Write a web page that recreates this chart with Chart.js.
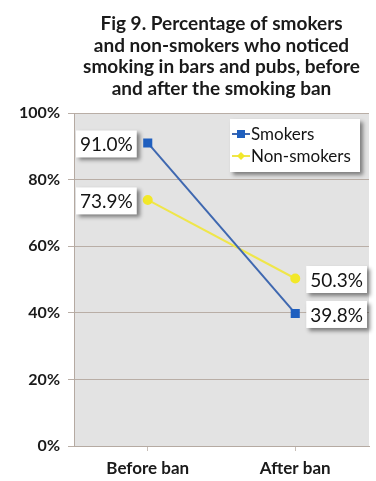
<!DOCTYPE html>
<html>
<head>
<meta charset="utf-8">
<script src="https://cdn.jsdelivr.net/npm/chart.js@4.4.1/dist/chart.umd.min.js"></script>
<style>
  html, body { margin: 0; padding: 0; background: #fff; }
  #wrap { width: 376px; height: 481px; }
</style>
</head>
<body>
<div id="wrap"><canvas id="myChart"></canvas></div>
<script>
// data
const categories = ['Before ban', 'After ban'];
const smokers = [91.0, 39.8];
const nonSmokers = [73.9, 50.3];
const titleLines = ['Fig 9. Percentage of smokers', 'and non-smokers who noticed', 'smoking in bars and pubs, before', 'and after the smoking ban'];

const FONT = 'Lato, "Liberation Sans", sans-serif';

// grey plot background
const plotBg = {
  id: 'plotBg',
  beforeDraw(chart) {
    const a = chart.chartArea, c = chart.ctx;
    c.save();
    c.fillStyle = '#e3e3e3';
    c.fillRect(a.left, a.top, a.right - a.left, a.bottom - a.top);
    c.restore();
  }
};

// title centred over plot
const titlePlugin = {
  id: 'titlePlugin',
  afterDraw(chart) {
    const c = chart.ctx, a = chart.chartArea;
    const cx = (a.left + a.right) / 2;
    c.save();
    c.font = 'bold 19px ' + FONT;
    c.fillStyle = '#1a1a1a';
    c.textAlign = 'center';
    c.textBaseline = 'alphabetic';
    titleLines.forEach((t, i) => c.fillText(t, cx, 30 + i * 21.5));
    c.restore();
  }
};

function box(c, x, y, w, h) {
  c.save();
  c.shadowColor = 'rgba(0,0,0,0.45)';
  c.shadowBlur = 4;
  c.shadowOffsetX = 3;
  c.shadowOffsetY = 3;
  c.fillStyle = '#fff';
  c.fillRect(x, y, w, h);
  c.restore();
}

// value labels in white boxes
const valueLabels = {
  id: 'valueLabels',
  afterDatasetsDraw(chart) {
    const c = chart.ctx;
    chart.data.datasets.forEach((ds, di) => {
      const meta = chart.getDatasetMeta(di);
      meta.data.forEach((pt, i) => {
        const txt = ds.data[i].toFixed(1) + '%';
        c.save();
        c.font = '19px ' + FONT;
        const w = c.measureText(txt).width + 8, h = 27;
        const x = i === 0 ? pt.x - 11 - w : pt.x + 11;
        const y = pt.y - h / 2 + 1;
        box(c, x, y, w, h);
        c.fillStyle = '#141414';
        c.textAlign = 'left';
        c.textBaseline = 'middle';
        c.fillText(txt, x + 4, y + h / 2 + 1);
        c.restore();
      });
    });
  }
};

// legend box inside plot
const legendBox = {
  id: 'legendBox',
  afterDraw(chart) {
    const c = chart.ctx;
    const x = 230, y = 119, w = 130, h = 53;
    box(c, x, y, w, h);
    chart.data.datasets.forEach((ds, i) => {
      const ly = y + 15 + i * 22;
      c.save();
      c.strokeStyle = ds.borderColor;
      c.lineWidth = 2;
      c.beginPath(); c.moveTo(x + 2, ly); c.lineTo(x + 20, ly); c.stroke();
      c.fillStyle = ds.pointBackgroundColor;
      if (ds.pointStyle === 'rect') c.fillRect(x + 7, ly - 4, 8, 8);
      else { c.beginPath(); c.moveTo(x + 11, ly - 4); c.lineTo(x + 15, ly); c.lineTo(x + 11, ly + 4); c.lineTo(x + 7, ly); c.fill(); }
      c.font = '17px ' + FONT;
      c.fillStyle = '#141414';
      c.textBaseline = 'middle';
      c.fillText(ds.label, x + 21, ly + 1);
      c.restore();
    });
  }
};

const ctx = document.getElementById('myChart');
const myChart = new Chart(ctx, {
  type: 'line',
  data: {
    labels: categories,
    datasets: [{
      label: 'Smokers',
      data: smokers,
      borderColor: '#3f68b0',
      backgroundColor: '#1f5fbf',
      pointBackgroundColor: '#1f5fbf',
      pointBorderColor: '#1f5fbf',
      pointStyle: 'rect',
      pointRadius: 5,
      borderWidth: 2,
      tension: 0
    }, {
      label: 'Non-smokers',
      data: nonSmokers,
      borderColor: '#efe64a',
      backgroundColor: '#f2e829',
      pointBackgroundColor: '#f2e829',
      pointBorderColor: '#f2e829',
      pointStyle: 'circle',
      pointRadius: 4,
      borderWidth: 2,
      tension: 0
    }]
  },
  options: {
    responsive: true,
    maintainAspectRatio: false,
    animation: false,
    layout: { padding: { top: 113, right: 6, left: 0, bottom: 0 } },
    plugins: {
      legend: { display: false },
      title: { display: false },
      tooltip: { enabled: false }
    },
    scales: {
      x: {
        offset: true,
        grid: { drawOnChartArea: false, drawTicks: true, tickLength: 5, color: '#c8bfb8', offset: false },
        border: { color: '#b5aaa2' },
        ticks: { color: '#1a1a1a', font: { family: FONT, size: 17, weight: 'bold' }, padding: 7 },
        afterFit: s => { s.height = 35; }
      },
      y: {
        min: 0, max: 100,
        ticks: { stepSize: 20, callback: v => v + '%', color: '#1a1a1a', font: { family: FONT, size: 16, weight: 'bold' }, padding: 8 },
        grid: { color: '#b9aea6', tickLength: 6 },
        border: { color: '#b5aaa2' },
        afterFit: s => { s.width = 74; }
      }
    }
  },
  plugins: [plotBg, valueLabels, legendBox, titlePlugin]
});
</script>
</body>
</html>
